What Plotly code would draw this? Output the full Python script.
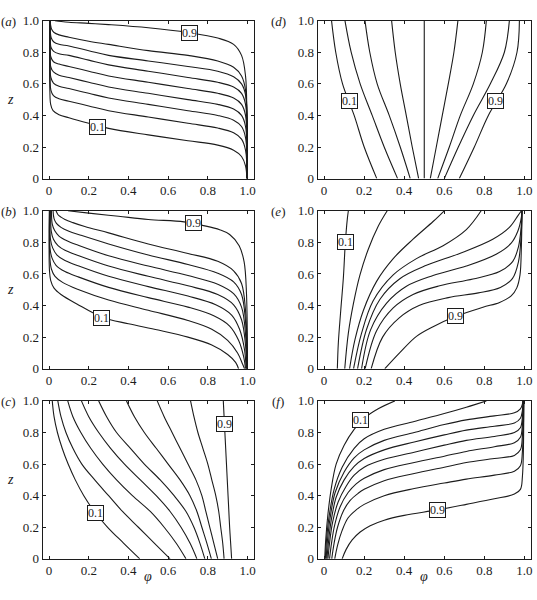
import plotly.graph_objects as go

# ---------------- data ----------------
LEVELS = [0.1, 0.2, 0.3, 0.4, 0.5, 0.6, 0.7, 0.8, 0.9]
TICKS = [0, 0.2, 0.4, 0.6, 0.8, 1.0]
TICK_TEXT = ["0", "0.2", "0.4", "0.6", "0.8", "1.0"]
PANELS = ["a", "d", "b", "e", "c", "f"]

# panel (a): contour lines, phi and z per level
A_PHI = [
    [0.003, 0.004, 0.008, 0.02, 0.05, 0.1, 0.2, 0.3, 0.5, 0.7, 0.85, 0.93, 0.97, 0.99, 0.997],
    [0.004, 0.005, 0.009, 0.022, 0.05, 0.1, 0.2, 0.3, 0.5, 0.7, 0.85, 0.93, 0.97, 0.99, 0.998],
    [0.004, 0.005, 0.009, 0.022, 0.05, 0.1, 0.2, 0.3, 0.5, 0.7, 0.85, 0.93, 0.97, 0.99, 0.998],
    [0.004, 0.005, 0.009, 0.022, 0.05, 0.1, 0.2, 0.3, 0.5, 0.7, 0.85, 0.93, 0.97, 0.99, 0.998],
    [0.004, 0.005, 0.009, 0.022, 0.05, 0.1, 0.2, 0.3, 0.5, 0.7, 0.85, 0.93, 0.97, 0.99, 0.998],
    [0.005, 0.006, 0.01, 0.023, 0.05, 0.1, 0.2, 0.3, 0.5, 0.7, 0.85, 0.93, 0.97, 0.99, 0.998],
    [0.005, 0.007, 0.011, 0.024, 0.05, 0.1, 0.2, 0.3, 0.5, 0.7, 0.85, 0.93, 0.97, 0.99, 0.998],
    [0.006, 0.008, 0.013, 0.025, 0.05, 0.1, 0.2, 0.3, 0.5, 0.7, 0.85, 0.93, 0.97, 0.99, 0.998],
    [0.03, 0.06, 0.1, 0.2, 0.3, 0.5, 0.7, 0.85, 0.93, 0.97, 0.99, 0.997, 1.0],
]
A_Z = [
    [1.0, 0.55, 0.47, 0.43, 0.405, 0.385, 0.35, 0.318, 0.277, 0.24, 0.212, 0.18, 0.14, 0.08, 0.0],
    [1.0, 0.63, 0.56, 0.525, 0.505, 0.49, 0.46, 0.43, 0.39, 0.35, 0.32, 0.29, 0.25, 0.18, 0.0],
    [1.0, 0.70, 0.64, 0.605, 0.585, 0.57, 0.54, 0.51, 0.47, 0.43, 0.40, 0.37, 0.33, 0.26, 0.0],
    [1.0, 0.76, 0.705, 0.675, 0.655, 0.64, 0.61, 0.58, 0.54, 0.50, 0.47, 0.44, 0.40, 0.33, 0.0],
    [1.0, 0.82, 0.77, 0.74, 0.725, 0.71, 0.68, 0.65, 0.61, 0.57, 0.54, 0.51, 0.47, 0.40, 0.0],
    [1.0, 0.87, 0.83, 0.805, 0.79, 0.78, 0.75, 0.72, 0.68, 0.64, 0.61, 0.58, 0.54, 0.47, 0.0],
    [1.0, 0.92, 0.89, 0.865, 0.85, 0.84, 0.81, 0.78, 0.745, 0.71, 0.68, 0.645, 0.60, 0.53, 0.0],
    [1.0, 0.97, 0.945, 0.925, 0.91, 0.895, 0.87, 0.85, 0.81, 0.78, 0.745, 0.705, 0.65, 0.56, 0.0],
    [1.0, 0.995, 0.99, 0.983, 0.975, 0.955, 0.925, 0.89, 0.85, 0.78, 0.65, 0.4, 0.0],
]

# panel (b)
B_PHI = [
    [0.0015, 0.002, 0.008, 0.025, 0.06, 0.14, 0.27, 0.4, 0.55, 0.7, 0.82, 0.9, 0.94, 0.955],
    [0.002, 0.004, 0.012, 0.03, 0.07, 0.15, 0.3, 0.5, 0.7, 0.82, 0.9, 0.95, 0.975, 0.985],
    [0.003, 0.005, 0.015, 0.035, 0.08, 0.15, 0.3, 0.5, 0.7, 0.83, 0.91, 0.955, 0.98, 0.99],
    [0.005, 0.007, 0.018, 0.04, 0.08, 0.15, 0.3, 0.5, 0.7, 0.84, 0.92, 0.96, 0.985, 0.993],
    [0.008, 0.011, 0.022, 0.045, 0.08, 0.15, 0.3, 0.5, 0.7, 0.85, 0.93, 0.97, 0.99, 0.996],
    [0.012, 0.016, 0.028, 0.05, 0.09, 0.15, 0.3, 0.5, 0.7, 0.85, 0.93, 0.97, 0.99, 0.997],
    [0.02, 0.025, 0.037, 0.06, 0.1, 0.16, 0.3, 0.5, 0.7, 0.85, 0.93, 0.97, 0.99, 0.998],
    [0.035, 0.045, 0.06, 0.08, 0.12, 0.18, 0.3, 0.5, 0.7, 0.85, 0.93, 0.97, 0.99, 0.999],
    [0.095, 0.2, 0.35, 0.5, 0.68, 0.78, 0.86, 0.91, 0.958, 0.983, 0.995, 1.0],
]
B_Z = [
    [1.0, 0.62, 0.56, 0.51, 0.47, 0.41, 0.325, 0.285, 0.245, 0.2, 0.15, 0.09, 0.04, 0.0],
    [1.0, 0.70, 0.63, 0.585, 0.545, 0.5, 0.435, 0.37, 0.305, 0.25, 0.18, 0.1, 0.03, 0.0],
    [1.0, 0.76, 0.70, 0.655, 0.615, 0.58, 0.515, 0.45, 0.39, 0.335, 0.27, 0.18, 0.08, 0.0],
    [1.0, 0.82, 0.765, 0.72, 0.685, 0.65, 0.585, 0.52, 0.46, 0.405, 0.34, 0.25, 0.12, 0.0],
    [1.0, 0.87, 0.82, 0.78, 0.75, 0.715, 0.65, 0.585, 0.525, 0.47, 0.405, 0.31, 0.15, 0.0],
    [1.0, 0.915, 0.875, 0.84, 0.81, 0.78, 0.715, 0.65, 0.59, 0.535, 0.475, 0.39, 0.22, 0.0],
    [1.0, 0.95, 0.92, 0.895, 0.87, 0.845, 0.79, 0.72, 0.66, 0.605, 0.55, 0.47, 0.3, 0.0],
    [1.0, 0.975, 0.96, 0.945, 0.925, 0.9, 0.86, 0.79, 0.73, 0.68, 0.62, 0.54, 0.37, 0.0],
    [1.0, 0.985, 0.965, 0.945, 0.93, 0.906, 0.88, 0.85, 0.779, 0.676, 0.471, 0.0],
]

# panel (c): phi of each level on a common z grid
C_Z = [1.0, 0.9, 0.8, 0.7, 0.6, 0.5, 0.4, 0.3, 0.2, 0.1, 0.0]
C_PHI = [
    [0.016, 0.025, 0.042, 0.066, 0.096, 0.132, 0.175, 0.228, 0.295, 0.375, 0.457],
    [0.044, 0.06, 0.085, 0.12, 0.165, 0.23, 0.30, 0.37, 0.45, 0.53, 0.61],
    [0.094, 0.12, 0.16, 0.21, 0.27, 0.34, 0.42, 0.51, 0.58, 0.64, 0.69],
    [0.163, 0.2, 0.25, 0.31, 0.38, 0.46, 0.54, 0.61, 0.665, 0.71, 0.745],
    [0.25, 0.29, 0.34, 0.41, 0.48, 0.56, 0.63, 0.69, 0.73, 0.76, 0.785],
    [0.39, 0.43, 0.48, 0.54, 0.60, 0.66, 0.71, 0.745, 0.77, 0.795, 0.818],
    [0.545, 0.58, 0.62, 0.66, 0.70, 0.74, 0.77, 0.79, 0.81, 0.83, 0.85],
    [0.713, 0.73, 0.75, 0.775, 0.80, 0.82, 0.84, 0.855, 0.865, 0.875, 0.882],
    [0.878, 0.882, 0.886, 0.89, 0.894, 0.898, 0.902, 0.906, 0.91, 0.915, 0.92],
]

# panel (d): phi of each level on a common z grid
D_Z = [1.0, 0.8, 0.6, 0.4, 0.2, 0.0]
D_PHI = [
    [0.037, 0.058, 0.092, 0.15, 0.2, 0.263],
    [0.104, 0.135, 0.18, 0.24, 0.30, 0.367],
    [0.204, 0.228, 0.265, 0.325, 0.38, 0.43],
    [0.337, 0.355, 0.38, 0.41, 0.44, 0.472],
    [0.5, 0.5, 0.5, 0.5, 0.5, 0.5],
    [0.668, 0.648, 0.62, 0.59, 0.56, 0.53],
    [0.81, 0.79, 0.745, 0.68, 0.625, 0.567],
    [0.925, 0.9, 0.83, 0.745, 0.67, 0.60],
    [0.975, 0.963, 0.91, 0.82, 0.75, 0.675],
]

# panel (e)
E_PHI = [
    [0.066, 0.071, 0.083, 0.096, 0.106, 0.116, 0.121],
    [0.103, 0.121, 0.146, 0.179, 0.221, 0.27, 0.315],
    [0.127, 0.154, 0.196, 0.262, 0.345, 0.444, 0.544, 0.60],
    [0.147, 0.187, 0.245, 0.345, 0.461, 0.594, 0.71, 0.784],
    [0.167, 0.212, 0.279, 0.378, 0.511, 0.677, 0.842, 0.925, 0.967, 0.985],
    [0.187, 0.232, 0.312, 0.411, 0.544, 0.71, 0.859, 0.934, 0.967, 0.985, 0.988],
    [0.205, 0.262, 0.345, 0.444, 0.577, 0.743, 0.876, 0.942, 0.97, 0.984, 0.988],
    [0.235, 0.292, 0.375, 0.474, 0.62, 0.77, 0.88, 0.94, 0.97, 0.984, 0.988],
    [0.303, 0.378, 0.461, 0.544, 0.658, 0.793, 0.876, 0.934, 0.962, 0.978, 0.985, 0.988],
]
E_Z = [
    [0.0, 0.164, 0.369, 0.574, 0.8, 0.95, 1.0],
    [0.0, 0.225, 0.41, 0.594, 0.758, 0.902, 1.0],
    [0.0, 0.184, 0.369, 0.553, 0.697, 0.82, 0.932, 1.0],
    [0.0, 0.225, 0.43, 0.594, 0.697, 0.779, 0.881, 1.0],
    [0.0, 0.25, 0.44, 0.57, 0.655, 0.73, 0.82, 0.895, 0.968, 1.0],
    [0.0, 0.246, 0.415, 0.522, 0.59, 0.65, 0.725, 0.795, 0.87, 0.96, 1.0],
    [0.0, 0.24, 0.385, 0.47, 0.525, 0.568, 0.615, 0.68, 0.77, 0.9, 1.0],
    [0.0, 0.2, 0.322, 0.4, 0.45, 0.48, 0.515, 0.57, 0.675, 0.85, 1.0],
    [0.0, 0.102, 0.205, 0.266, 0.332, 0.389, 0.42, 0.461, 0.512, 0.594, 0.779, 1.0],
]

# panel (f)
F_PHI = [
    [0.003, 0.008, 0.018, 0.035, 0.06, 0.1, 0.15, 0.2, 0.27, 0.353],
    [0.006, 0.012, 0.025, 0.05, 0.09, 0.15, 0.2, 0.3, 0.45, 0.6, 0.71, 0.81],
    [0.01, 0.017, 0.03, 0.055, 0.1, 0.15, 0.2, 0.3, 0.45, 0.6, 0.71, 0.85, 0.95, 0.98, 0.99, 0.992],
    [0.014, 0.022, 0.035, 0.06, 0.1, 0.15, 0.2, 0.3, 0.45, 0.6, 0.71, 0.85, 0.95, 0.98, 0.99, 0.993],
    [0.019, 0.028, 0.042, 0.07, 0.11, 0.15, 0.2, 0.3, 0.45, 0.6, 0.71, 0.85, 0.95, 0.98, 0.99, 0.994],
    [0.027, 0.037, 0.052, 0.08, 0.12, 0.16, 0.2, 0.3, 0.45, 0.6, 0.71, 0.85, 0.95, 0.98, 0.99, 0.995],
    [0.038, 0.05, 0.067, 0.095, 0.13, 0.17, 0.2, 0.3, 0.45, 0.6, 0.71, 0.85, 0.95, 0.98, 0.99, 0.996],
    [0.053, 0.068, 0.09, 0.12, 0.16, 0.2, 0.3, 0.45, 0.6, 0.71, 0.85, 0.95, 0.98, 0.99, 0.997],
    [0.09, 0.11, 0.14, 0.18, 0.23, 0.3, 0.4, 0.564, 0.71, 0.85, 0.95, 0.98, 0.99, 0.997],
]
F_Z = [
    [0.0, 0.12, 0.27, 0.44, 0.6, 0.72, 0.82, 0.89, 0.95, 1.0],
    [0.0, 0.12, 0.27, 0.44, 0.58, 0.7, 0.76, 0.82, 0.87, 0.92, 0.96, 1.0],
    [0.0, 0.12, 0.26, 0.42, 0.55, 0.64, 0.69, 0.75, 0.8, 0.85, 0.88, 0.905, 0.925, 0.95, 0.98, 1.0],
    [0.0, 0.11, 0.24, 0.39, 0.5, 0.585, 0.635, 0.69, 0.74, 0.785, 0.815, 0.84, 0.86, 0.89, 0.94, 1.0],
    [0.0, 0.11, 0.23, 0.36, 0.46, 0.53, 0.58, 0.63, 0.675, 0.72, 0.75, 0.775, 0.80, 0.83, 0.9, 1.0],
    [0.0, 0.1, 0.21, 0.33, 0.42, 0.475, 0.51, 0.565, 0.61, 0.65, 0.68, 0.71, 0.735, 0.77, 0.85, 1.0],
    [0.0, 0.1, 0.2, 0.3, 0.37, 0.415, 0.44, 0.495, 0.54, 0.58, 0.61, 0.635, 0.655, 0.69, 0.78, 1.0],
    [0.0, 0.09, 0.18, 0.26, 0.31, 0.345, 0.40, 0.445, 0.48, 0.505, 0.53, 0.555, 0.59, 0.68, 1.0],
    [0.0, 0.06, 0.12, 0.17, 0.21, 0.245, 0.275, 0.31, 0.345, 0.38, 0.41, 0.44, 0.52, 1.0],
]

# (phi, z) centres of the "0.1" and "0.9" contour labels in each panel
LABEL_POS = {
    "a": [(0.246, 0.328), (0.71, 0.92)],
    "b": [(0.266, 0.318), (0.73, 0.92)],
    "c": [(0.235, 0.29), (0.886, 0.852)],
    "d": [(0.126, 0.494), (0.856, 0.49)],
    "e": [(0.106, 0.80), (0.658, 0.332)],
    "f": [(0.184, 0.881), (0.564, 0.307)],
}
LABEL_TEXT = ["0.1", "0.9"]

# ---------------- assemble curves per panel ----------------
curves = {
    "a": list(zip(A_PHI, A_Z)),
    "b": list(zip(B_PHI, B_Z)),
    "c": [(p, C_Z) for p in C_PHI],
    "d": [(p, D_Z) for p in D_PHI],
    "e": list(zip(E_PHI, E_Z)),
    "f": list(zip(F_PHI, F_Z)),
}

W, H = 537, 600
X_DOM = {0: [42.7 / W, 255 / W], 1: [318.7 / W, 533 / W]}
Y_DOM = {0: [1 - 176 / H, 1 - 14 / H], 1: [1 - 371 / H, 1 - 209 / H], 2: [1 - 566 / H, 1 - 404 / H]}
POS = {"a": (0, 0), "d": (0, 1), "b": (1, 0), "e": (1, 1), "c": (2, 0), "f": (2, 1)}

FONT = "Liberation Serif, Times New Roman, DejaVu Serif, serif"
INK = "#1c1c1c"

fig = go.Figure()
layout = dict(
    width=W, height=H, margin=dict(l=0, r=0, t=0, b=0),
    paper_bgcolor="white", plot_bgcolor="white", showlegend=False,
    font=dict(family=FONT, size=13, color=INK),
)
annotations = []

for i, name in enumerate(PANELS):
    n = i + 1
    xa = "x" if n == 1 else f"x{n}"
    ya = "y" if n == 1 else f"y{n}"
    row, col = POS[name]
    axis_common = dict(
        tickvals=TICKS, ticktext=TICK_TEXT, ticks="inside", ticklen=3, tickwidth=1,
        tickcolor=INK, showline=True, linecolor=INK, linewidth=1, mirror="ticks",
        showgrid=False, zeroline=False, tickfont=dict(family=FONT, size=13, color=INK),
    )
    layout["xaxis" if n == 1 else f"xaxis{n}"] = dict(
        domain=X_DOM[col], range=[-0.033, 1.033], anchor=ya, **axis_common)
    layout["yaxis" if n == 1 else f"yaxis{n}"] = dict(
        domain=Y_DOM[row], range=[0, 1], anchor=xa, **axis_common)

    for (phi, z), lev in zip(curves[name], LEVELS):
        fig.add_trace(go.Scatter(
            x=phi, y=z, mode="lines", xaxis=xa, yaxis=ya, hoverinfo="skip",
            name=f"{name} {lev}",
            line=dict(color=INK, width=1.1, shape="spline", smoothing=1.0),
        ))

    for (px, pz), txt in zip(LABEL_POS[name], LABEL_TEXT):
        annotations.append(dict(
            x=px, y=pz, xref=xa, yref=ya, text=txt, showarrow=False,
            font=dict(family=FONT, size=12, color=INK), bgcolor="white",
            bordercolor=INK, borderwidth=1, borderpad=0,
        ))

    # panel letter
    lx = 8.5 if col == 0 else 279.5
    ly = [14.5, 209.5, 404.5][row]
    annotations.append(dict(
        x=lx / W, y=1 - ly / H, xref="paper", yref="paper", xanchor="center", yanchor="middle",
        text=f"(<i>{name}</i>)", showarrow=False, font=dict(family=FONT, size=13, color=INK),
    ))

    if col == 0:
        annotations.append(dict(
            x=11 / W, y=(Y_DOM[row][0] + Y_DOM[row][1]) / 2, xref="paper", yref="paper",
            xanchor="center", yanchor="middle", text="<i>z</i>", showarrow=False,
            font=dict(family=FONT, size=14, color=INK),
        ))
    if row == 2:
        annotations.append(dict(
            x=(X_DOM[col][0] + X_DOM[col][1]) / 2, y=1 - 584 / H, xref="paper", yref="paper",
            xanchor="center", yanchor="middle", text="<i>φ</i>", showarrow=False,
            font=dict(family=FONT, size=14, color=INK),
        ))

layout["annotations"] = annotations
fig.update_layout(**layout)
fig.write_html("out.html")
